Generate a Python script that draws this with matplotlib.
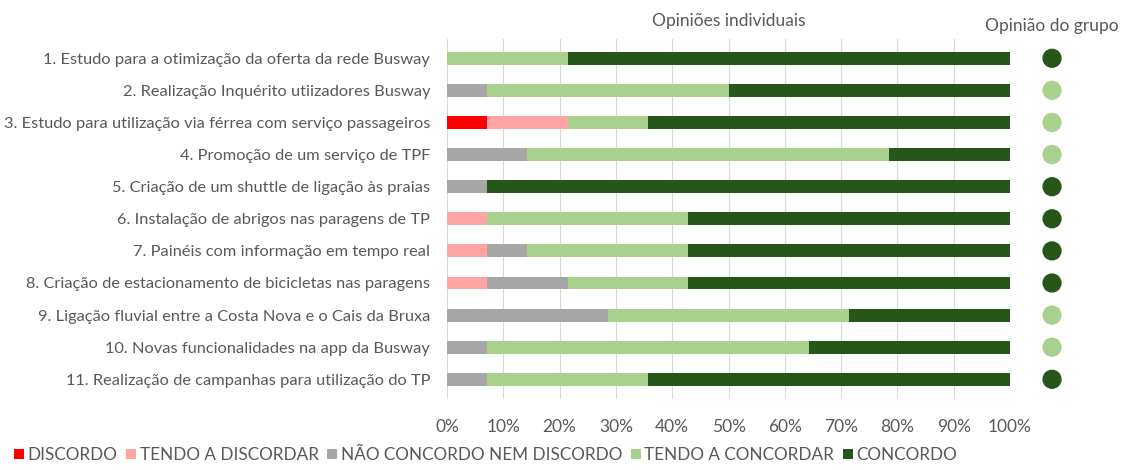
import matplotlib.pyplot as plt
import numpy as np

plt.rcParams['font.family'] = ['Lato', 'DejaVu Sans']

categorias = [
    '1. Estudo para a otimização da oferta da rede Busway',
    '2. Realização Inquérito utiizadores Busway',
    '3. Estudo para utilização via férrea com serviço passageiros',
    '4. Promoção de um serviço de TPF',
    '5. Criação de um shuttle de ligação às praias',
    '6. Instalação de abrigos nas paragens de TP',
    '7. Painéis com informação em tempo real',
    '8. Criação de estacionamento de bicicletas nas paragens',
    '9. Ligação fluvial entre a Costa Nova e o Cais da Bruxa',
    '10. Novas funcionalidades na app da Busway',
    '11. Realização de campanhas para utilização do TP',
]

# respostas (14 participantes)
discordo = [0, 0, 1, 0, 0, 0, 0, 0, 0, 0, 0]
tendo_discordar = [0, 0, 2, 0, 0, 1, 1, 1, 0, 0, 0]
neutro = [0, 1, 0, 2, 1, 0, 1, 2, 4, 1, 1]
tendo_concordar = [3, 6, 2, 9, 0, 5, 4, 3, 6, 8, 4]
concordo = [11, 7, 9, 3, 13, 8, 8, 8, 4, 5, 9]

# opinião do grupo: 1 = tendo a concordar, 2 = concordo
opiniao_grupo = [2, 1, 1, 1, 2, 2, 2, 2, 1, 1, 2]

series = ['DISCORDO', 'TENDO A DISCORDAR', 'NÃO CONCORDO NEM DISCORDO',
          'TENDO A CONCORDAR', 'CONCORDO']
cores = ['#FF0000', '#FFA3A3', '#A6A6A6', '#A9D18E', '#27561A']

dados = np.array([discordo, tendo_discordar, neutro, tendo_concordar, concordo], dtype=float)
dados = dados / dados.sum(axis=0)

cor_texto = '#595959'

fig = plt.figure(figsize=(11.24, 4.70), dpi=100)
ax = fig.add_axes([0.3977, 0.152, 0.5009, 0.765])

y = np.arange(len(categorias))
esq = np.zeros(len(categorias))
for i in range(len(series)):
    ax.barh(y, dados[i], left=esq, height=0.4, color=cores[i], label=series[i], zorder=3)
    esq += dados[i]

ax.set_xlim(0, 1)
ax.set_ylim(10.6, -0.6)
ax.set_yticks(y)
ax.set_yticklabels(categorias, fontsize=11.8, color=cor_texto)
ax.set_xticks(np.arange(0, 1.01, 0.1))
ax.set_xticklabels([f'{int(round(v * 100))}%' for v in np.arange(0, 1.01, 0.1)],
                   fontsize=12.5, color=cor_texto)
ax.tick_params(axis='both', length=0)
ax.tick_params(axis='x', pad=15)
ax.tick_params(axis='y', pad=12)
ax.grid(axis='x', color='#D9D9D9', linewidth=0.8, zorder=0)
for s in ax.spines.values():
    s.set_visible(False)

# opinião do grupo
cores_grupo = [cores[3] if o == 1 else cores[4] for o in opiniao_grupo]
ax.scatter([1.0746] * len(y), y, s=165, c=cores_grupo, clip_on=False, zorder=4)

fig.text(0.648, 0.955, 'Opiniões individuais', ha='center', va='center',
         fontsize=12.5, color=cor_texto)
fig.text(0.936, 0.945, 'Opinião do grupo', ha='center', va='center',
         fontsize=12.5, color=cor_texto)

fig.legend(loc='center', bbox_to_anchor=(0.432, 0.032), ncol=5, frameon=False,
           fontsize=12.3, handlelength=0.6, handleheight=0.6, handletextpad=0.2,
           columnspacing=0.5, labelcolor=cor_texto, borderaxespad=0)

fig.savefig('out.png', dpi=100)
